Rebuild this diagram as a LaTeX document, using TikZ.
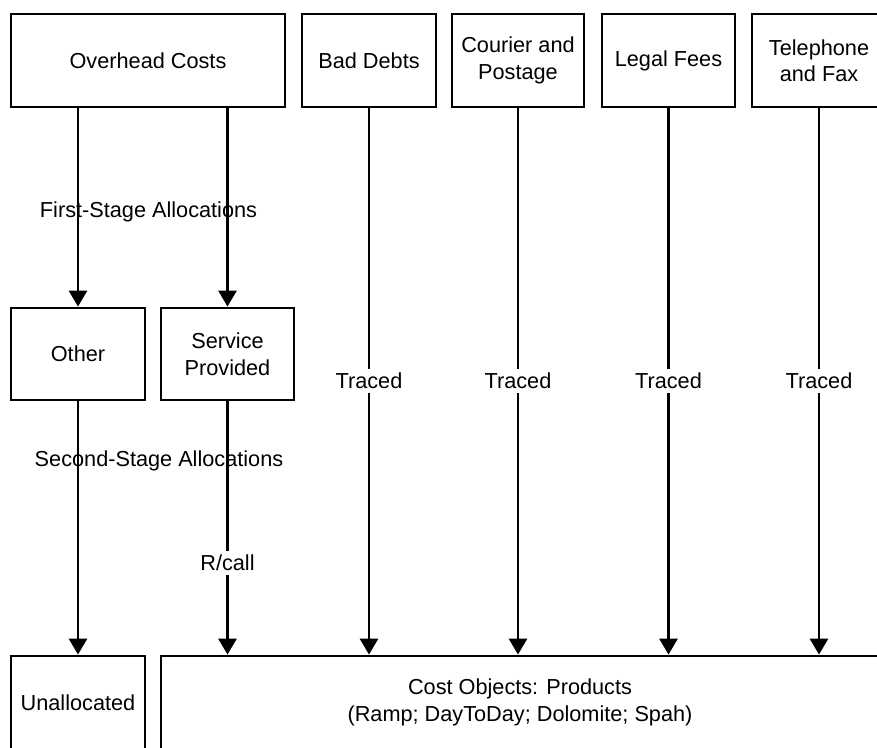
\documentclass[tikz,border=0pt]{standalone}
\usepackage{fontspec}
\setmainfont{Liberation Sans}
\usetikzlibrary{arrows.meta}
\begin{document}
\begin{tikzpicture}[x=1pt,y=-1pt,
  box/.style={draw, line width=2.8pt, rectangle, inner sep=0pt, align=center,
    font=\fontsize{21.7}{26.5}\selectfont},
  ln/.style={line width=2.8pt},
  arr/.style={line width=2.8pt, -{Triangle[length=16pt,width=18pt]}},
  lab/.style={font=\fontsize{21.7}{26.5}\selectfont, inner sep=1pt},
  labw/.style={lab, inner sep=0pt, minimum height=24pt}]
\useasboundingbox (0,0) rectangle (877,747);
\clip (0,0) rectangle (877,747);
% boxes
\node[box, minimum width=274pt, minimum height=93pt] (oh) at (148,60.5) {Overhead Costs};
\node[box, minimum width=134pt, minimum height=93pt] (bd) at (369,60.5) {Bad Debts};
\node[box, minimum width=132pt, minimum height=93pt] (cp) at (518,60.5) {Courier and\\Postage};
\node[box, minimum width=133pt, minimum height=93pt] (lf) at (668.5,60.5) {Legal Fees};
\node[box, minimum width=134pt, minimum height=93pt] (tf) at (819,60.5) {Telephone\\and Fax};
\node[box, minimum width=134pt, minimum height=92pt] (ot) at (78,354) {Other};
\node[box, minimum width=133pt, minimum height=92pt] (sp) at (227.5,354) {Service\\Provided};
\node[box, minimum width=134pt, minimum height=93pt] (un) at (78,702.5) {Unallocated};
\node[box, minimum width=718pt, minimum height=93pt] (co) at (520,702.5) {Cost Objects: Products\\(Ramp; DayToDay; Dolomite; Spah)};
% free labels
\node[lab] (fs) at (148.5,212) {First-Stage Allocations};
\node[lab] (ss) at (159,461) {Second-Stage Allocations};
% labels that break their connectors
\node[labw] (rc) at (227.5,563) {R/call};
\node[labw] (t1) at (369,381) {Traced};
\node[labw] (t2) at (518,381) {Traced};
\node[labw] (t3) at (668.5,381) {Traced};
\node[labw] (t4) at (819,381) {Traced};
% connectors
\draw[arr] (ot.north |- oh.south) -- (ot.north);
\draw[arr] (sp.north |- oh.south) -- (sp.north);
\draw[arr] (ot.south) -- (un.north);
\draw[ln] (sp.south) -- (rc.north);
\draw[arr] (rc.south) -- (co.north -| rc.south);
\draw[ln] (bd.south) -- (t1.north);
\draw[arr] (t1.south) -- (co.north -| t1.south);
\draw[ln] (cp.south) -- (t2.north);
\draw[arr] (t2.south) -- (co.north -| t2.south);
\draw[ln] (lf.south) -- (t3.north);
\draw[arr] (t3.south) -- (co.north -| t3.south);
\draw[ln] (tf.south) -- (t4.north);
\draw[arr] (t4.south) -- (co.north -| t4.south);
\end{tikzpicture}
\end{document}
